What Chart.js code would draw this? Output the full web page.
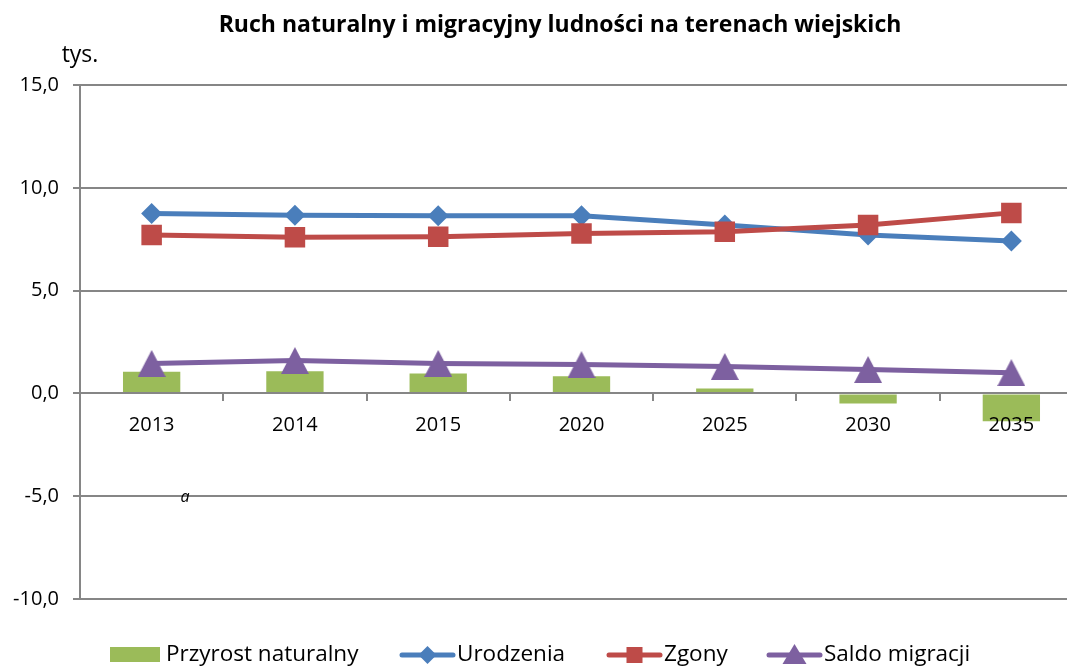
<!DOCTYPE html>
<html>
<head>
<meta charset="utf-8">
<script src="https://cdn.jsdelivr.net/npm/chart.js@4"></script>
<style>
  html, body { margin: 0; padding: 0; background: #fff; overflow: hidden; }
  #wrap { width: 1120px; height: 666px; }
</style>
</head>
<body>
<div id="wrap"><canvas id="ruchChart"></canvas></div>
<script>
const years = ['2013', '2014', '2015', '2020', '2025', '2030', '2035'];
const przyrost = [1.05, 1.08, 0.97, 0.84, 0.24, -0.49, -1.35];
const urodzenia = [8.75, 8.67, 8.64, 8.64, 8.19, 7.7, 7.41];
const zgony = [7.7, 7.59, 7.62, 7.78, 7.86, 8.19, 8.78];
const saldo = [1.46, 1.6, 1.46, 1.4, 1.31, 1.16, 1.01];
const yTicks = [-10, -5, 0, 5, 10, 15];

const FONT = '"Open Sans"';
const GREEN = '#9bbb59';
const BLUE = '#4a7ebb';
const RED = '#be4b48';
const PURPLE = '#7d60a0';
const GRID = '#868686';

Chart.defaults.font.family = FONT;
Chart.defaults.color = '#000';

// triangle marker centred on its bounding box, like the original
function triangleImg(w, h, color) {
    const c = document.createElement('canvas');
    c.width = w;
    c.height = h;
    const g = c.getContext('2d');
    g.fillStyle = color;
    g.beginPath();
    g.moveTo(w / 2, 0);
    g.lineTo(w, h);
    g.lineTo(0, h);
    g.closePath();
    g.fill();
    return c;
}
const tri = triangleImg(28, 27, PURPLE);

const fmt = v => v.toFixed(1).replace('.', ',');

const extras = {
    id: 'extras',
    afterDraw(chart) {
        const ctx = chart.ctx;
        ctx.save();
        ctx.fillStyle = '#000';
        ctx.textBaseline = 'middle';
        ctx.textAlign = 'center';
        ctx.font = '23px ' + FONT;
        ctx.fillText('tys.', 80, 55);
        ctx.font = 'italic 16px ' + FONT;
        ctx.fillText('a', 185, 497);

        // legend
        const ly = 655;
        ctx.font = '22.5px ' + FONT;
        ctx.textAlign = 'left';
        ctx.fillStyle = GREEN;
        ctx.fillRect(110, 647, 50, 15);
        ctx.fillStyle = '#000';
        ctx.fillText('Przyrost naturalny', 166, ly);

        const lineItem = (x, color, label, marker) => {
            ctx.strokeStyle = color;
            ctx.lineWidth = 5;
            ctx.lineCap = 'round';
            ctx.beginPath();
            ctx.moveTo(x + 2, ly);
            ctx.lineTo(x + 53, ly);
            ctx.stroke();
            ctx.fillStyle = color;
            marker(x + 27.5);
            ctx.fillStyle = '#000';
            ctx.fillText(label, x + 57, ly);
        };
        lineItem(400, BLUE, 'Urodzenia', cx => {
            ctx.beginPath();
            ctx.moveTo(cx - 9, ly);
            ctx.lineTo(cx, ly - 9);
            ctx.lineTo(cx + 9, ly);
            ctx.lineTo(cx, ly + 9);
            ctx.closePath();
            ctx.fill();
        });
        lineItem(607, RED, 'Zgony', cx => {
            ctx.fillRect(cx - 8, ly - 8, 16, 16);
        });
        lineItem(767, PURPLE, 'Saldo migracji', cx => {
            ctx.beginPath();
            ctx.moveTo(cx, ly - 11);
            ctx.lineTo(cx + 12, ly + 9);
            ctx.lineTo(cx - 12, ly + 9);
            ctx.closePath();
            ctx.fill();
        });
        ctx.restore();
    }
};

new Chart(document.querySelector('#ruchChart'), {
    data: {
        labels: years,
        datasets: [
            {
                type: 'bar',
                label: 'Przyrost naturalny',
                data: przyrost,
                backgroundColor: GREEN,
                categoryPercentage: 1,
                barPercentage: 0.4,
                order: 4,
            },
            {
                type: 'line',
                label: 'Urodzenia',
                data: urodzenia,
                borderColor: BLUE,
                backgroundColor: BLUE,
                borderWidth: 5,
                pointStyle: 'rectRot',
                pointRadius: 10.5,
                pointHoverRadius: 10.5,
                pointBorderWidth: 0,
                order: 3,
            },
            {
                type: 'line',
                label: 'Zgony',
                data: zgony,
                borderColor: RED,
                backgroundColor: RED,
                borderWidth: 5,
                pointStyle: 'rect',
                pointRadius: 14.5,
                pointHoverRadius: 14.5,
                pointBorderWidth: 0,
                order: 2,
            },
            {
                type: 'line',
                label: 'Saldo migracji',
                data: saldo,
                borderColor: PURPLE,
                backgroundColor: PURPLE,
                borderWidth: 5,
                pointStyle: tri,
                pointRadius: 14,
                order: 1,
            },
        ],
    },
    options: {
        responsive: true,
        maintainAspectRatio: false,
        animation: false,
        layout: {
            padding: { left: 0, right: 0, top: 0, bottom: 67 },
        },
        plugins: {
            legend: { display: false },
            tooltip: { enabled: false },
            title: {
                display: true,
                text: 'Ruch naturalny i migracyjny ludności na terenach wiejskich',
                font: { size: 23, weight: 'bold' },
                color: '#000',
                padding: { top: 12, bottom: 45.4 },
            },
        },
        scales: {
            x: {
                position: { y: 0 },
                afterFit(scale) {
                    scale.height = 0;
                },
                grid: {
                    drawOnChartArea: false,
                    drawTicks: true,
                    tickLength: 7,
                    color: GRID,
                    lineWidth: 2,
                },
                border: { color: GRID, width: 2, z: 1 },
                ticks: {
                    font: { size: 20 },
                    padding: 13,
                    maxRotation: 0,
                    z: 1,
                },
            },
            y: {
                min: -10,
                max: 15,
                afterFit(scale) {
                    scale.width = 80;
                },
                afterBuildTicks(scale) {
                    scale.ticks = yTicks.map(v => ({ value: v }));
                },
                grid: {
                    color: GRID,
                    lineWidth: 2,
                    tickLength: 7,
                },
                border: { color: GRID, width: 2 },
                ticks: {
                    font: { size: 20 },
                    padding: 14,
                    callback: v => fmt(v),
                },
            },
            // empty right-hand strip: the original plot runs past the picture edge
            yRight: {
                position: 'right',
                display: true,
                afterFit(scale) {
                    scale.width = 37;
                },
                grid: { display: false },
                border: { display: false },
                ticks: { display: false },
            },
        },
    },
    plugins: [extras],
});
</script>
</body>
</html>
